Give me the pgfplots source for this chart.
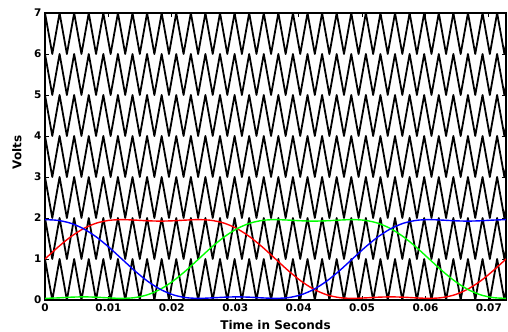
\documentclass[border=0pt]{standalone}
\usepackage{pgfplots}
\pgfplotsset{compat=1.18}
\usepackage{pgfplotstable}
\usepackage{fontspec}
\setmainfont{DejaVu Sans}
\pgfplotstableread{
t c0 c1 c2 c3 c4 c5 c6
0.00000 1 2 3 4 5 6 7
0.00115 0 1 2 3 4 5 6
0.00230 1 2 3 4 5 6 7
0.00345 0 1 2 3 4 5 6
0.00460 1 2 3 4 5 6 7
0.00575 0 1 2 3 4 5 6
0.00690 1 2 3 4 5 6 7
0.00805 0 1 2 3 4 5 6
0.00920 1 2 3 4 5 6 7
0.01035 0 1 2 3 4 5 6
0.01150 1 2 3 4 5 6 7
0.01265 0 1 2 3 4 5 6
0.01380 1 2 3 4 5 6 7
0.01495 0 1 2 3 4 5 6
0.01610 1 2 3 4 5 6 7
0.01725 0 1 2 3 4 5 6
0.01840 1 2 3 4 5 6 7
0.01955 0 1 2 3 4 5 6
0.02070 1 2 3 4 5 6 7
0.02185 0 1 2 3 4 5 6
0.02300 1 2 3 4 5 6 7
0.02415 0 1 2 3 4 5 6
0.02530 1 2 3 4 5 6 7
0.02645 0 1 2 3 4 5 6
0.02760 1 2 3 4 5 6 7
0.02875 0 1 2 3 4 5 6
0.02990 1 2 3 4 5 6 7
0.03105 0 1 2 3 4 5 6
0.03220 1 2 3 4 5 6 7
0.03335 0 1 2 3 4 5 6
0.03450 1 2 3 4 5 6 7
0.03565 0 1 2 3 4 5 6
0.03680 1 2 3 4 5 6 7
0.03795 0 1 2 3 4 5 6
0.03910 1 2 3 4 5 6 7
0.04025 0 1 2 3 4 5 6
0.04140 1 2 3 4 5 6 7
0.04255 0 1 2 3 4 5 6
0.04370 1 2 3 4 5 6 7
0.04485 0 1 2 3 4 5 6
0.04600 1 2 3 4 5 6 7
0.04715 0 1 2 3 4 5 6
0.04830 1 2 3 4 5 6 7
0.04945 0 1 2 3 4 5 6
0.05060 1 2 3 4 5 6 7
0.05175 0 1 2 3 4 5 6
0.05290 1 2 3 4 5 6 7
0.05405 0 1 2 3 4 5 6
0.05520 1 2 3 4 5 6 7
0.05635 0 1 2 3 4 5 6
0.05750 1 2 3 4 5 6 7
0.05865 0 1 2 3 4 5 6
0.05980 1 2 3 4 5 6 7
0.06095 0 1 2 3 4 5 6
0.06210 1 2 3 4 5 6 7
0.06325 0 1 2 3 4 5 6
0.06440 1 2 3 4 5 6 7
0.06555 0 1 2 3 4 5 6
0.06670 1 2 3 4 5 6 7
0.06785 0 1 2 3 4 5 6
0.06900 1 2 3 4 5 6 7
0.07015 0 1 2 3 4 5 6
0.07130 1 2 3 4 5 6 7
0.07245 0 1 2 3 4 5 6
0.07360 1 2 3 4 5 6 7
}\carrier
\pgfplotstableread{
t r g b
0.000000 1.000 0.040 1.960
0.002019 1.285 0.051 1.942
0.004039 1.539 0.068 1.873
0.006058 1.739 0.076 1.739
0.008078 1.873 0.068 1.539
0.010097 1.942 0.051 1.285
0.012117 1.960 0.040 1.000
0.014136 1.949 0.058 0.715
0.016156 1.932 0.127 0.461
0.018175 1.924 0.261 0.261
0.020194 1.932 0.461 0.127
0.022214 1.949 0.715 0.058
0.024233 1.960 1.000 0.040
0.026253 1.942 1.285 0.051
0.028272 1.873 1.539 0.068
0.030292 1.739 1.739 0.076
0.032311 1.539 1.873 0.068
0.034331 1.285 1.942 0.051
0.036350 1.000 1.960 0.040
0.038369 0.715 1.949 0.058
0.040389 0.461 1.932 0.127
0.042408 0.261 1.924 0.261
0.044428 0.127 1.932 0.461
0.046447 0.058 1.949 0.715
0.048467 0.040 1.960 1.000
0.050486 0.051 1.942 1.285
0.052506 0.068 1.873 1.539
0.054525 0.076 1.739 1.739
0.056544 0.068 1.539 1.873
0.058564 0.051 1.285 1.942
0.060583 0.040 1.000 1.960
0.062603 0.058 0.715 1.949
0.064622 0.127 0.461 1.932
0.066642 0.261 0.261 1.924
0.068661 0.461 0.127 1.932
0.070681 0.715 0.058 1.949
0.072700 1.000 0.040 1.960
}\sig
\begin{document}
\begin{tikzpicture}
\begin{axis}[
  scale only axis, width=461pt, height=287pt,
  xmin=0, xmax=0.0727, ymin=0, ymax=7,
  xtick={0,0.01,0.02,0.03,0.04,0.05,0.06,0.07},
  xticklabels={0,0.01,0.02,0.03,0.04,0.05,0.06,0.07},
  scaled x ticks=false,
  ytick={0,1,2,3,4,5,6,7},
  tick align=inside,
  axis line style={line width=1.2pt},
  tick style={black, line width=0.8pt},
  major tick length=4pt,
  /pgf/number format/assume math mode=true,
  tick label style={font=\bfseries\fontsize{10.5}{12}\selectfont},
  xlabel={Time in Seconds}, ylabel={Volts},
  every axis x label/.style={at={(axis description cs:0.5,0)}, yshift=-25pt, anchor=center, font=\bfseries\fontsize{12}{14}\selectfont},
  every axis y label/.style={at={(axis description cs:0,0.5)}, xshift=-28pt, yshift=4pt, anchor=center, rotate=90, font=\bfseries\fontsize{12}{14}\selectfont},
  clip=true,
]
\foreach \c in {c0,c1,c2,c3,c4,c5,c6}{
  \addplot[black, line width=1.8pt, line join=round] table[x=t, y=\c] {\carrier};
}
\addplot[red, line width=1.4pt, smooth] table[x=t, y=r] {\sig};
\addplot[green, line width=1.4pt, smooth] table[x=t, y=g] {\sig};
\addplot[blue, line width=1.4pt, smooth] table[x=t, y=b] {\sig};
\end{axis}
\pgfresetboundingbox
\path ([xshift=-45pt,yshift=-32pt]current axis.south west) rectangle ([xshift=2pt,yshift=13pt]current axis.north east);
\end{tikzpicture}
\end{document}
